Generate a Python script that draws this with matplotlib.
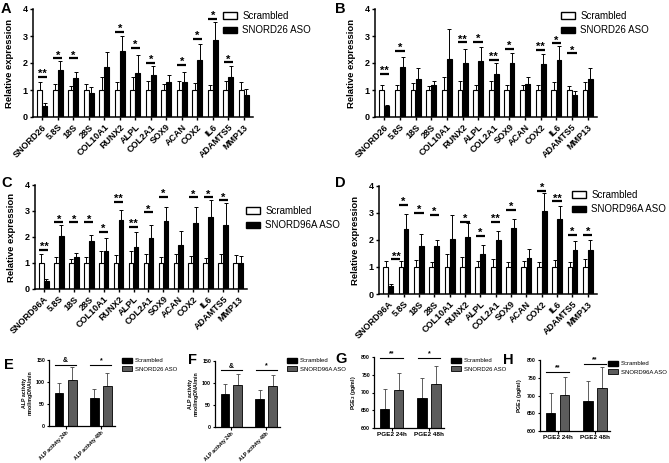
import numpy as np
import matplotlib
matplotlib.use("Agg")
import matplotlib.pyplot as plt
from matplotlib.patches import Patch

plt.rcParams['font.family'] = ['Liberation Sans', 'DejaVu Sans']
plt.rcParams['font.weight'] = 'bold'

# ---------------- data ----------------
genes_26 = ['SNORD26', '5.8S', '18S', '28S', 'COL10A1', 'RUNX2', 'ALPL', 'COL2A1',
            'SOX9', 'ACAN', 'COX2', 'IL6', 'ADAMTS5', 'MMP13']
genes_96 = ['SNORD96A', '5.8S', '18S', '28S', 'COL10A1', 'RUNX2', 'ALPL', 'COL2A1',
            'SOX9', 'ACAN', 'COX2', 'IL6', 'ADAMTS5', 'MMP13']

A_scr = [1, 1, 1, 1, 1, 1, 1, 1, 1, 1, 1, 1, 1, 1]
A_scr_err = [0.30, 0.22, 0.14, 0.22, 0.47, 0.28, 0.48, 0.35, 0.22, 0.35, 0.26, 0.17, 0.35, 0.28]
A_aso = [0.40, 1.75, 1.44, 0.89, 1.85, 2.45, 1.63, 1.54, 1.30, 1.30, 2.10, 2.86, 1.50, 0.80]
A_aso_err = [0.12, 0.33, 0.23, 0.21, 0.55, 0.55, 0.67, 0.36, 0.27, 0.38, 0.62, 0.66, 0.38, 0.24]
A_sig_pos = [0, 1, 2, 5, 6, 7, 9, 10, 11, 12]
A_sig_lab = ['**', '*', '*', '*', '*', '*', '*', '*', '*', '*']
A_sig_y = [1.48, 2.17, 2.17, 3.15, 2.56, 2.0, 1.94, 2.89, 3.64, 2.02]

B_scr = [1, 1, 1, 1, 1, 1, 1, 1, 1, 1, 1, 1, 1, 1]
B_scr_err = [0.18, 0.20, 0.27, 0.16, 0.49, 0.33, 0.19, 0.32, 0.17, 0.19, 0.18, 0.29, 0.16, 0.29]
B_aso = [0.40, 1.86, 1.40, 1.17, 2.15, 2.01, 2.06, 1.61, 2.01, 1.23, 1.98, 2.11, 0.80, 1.40]
B_aso_err = [0.06, 0.35, 0.43, 0.17, 1.12, 0.51, 0.52, 0.38, 0.35, 0.26, 0.35, 0.52, 0.16, 0.43]
B_sig_pos = [0, 1, 5, 6, 7, 8, 10, 11, 12]
B_sig_lab = ['**', '*', '**', '*', '**', '*', '**', '*', '*']
B_sig_y = [1.61, 2.45, 2.76, 2.77, 2.11, 2.51, 2.48, 2.73, 2.36]

C_scr = [1, 1, 1, 1, 1, 1, 1, 1, 1, 1, 1, 1, 1, 1]
C_scr_err = [0.34, 0.22, 0.15, 0.22, 0.46, 0.30, 0.47, 0.34, 0.22, 0.34, 0.26, 0.19, 0.34, 0.30]
C_aso = [0.29, 2.02, 1.22, 1.84, 1.46, 2.66, 1.60, 1.96, 2.60, 1.68, 2.54, 2.78, 2.48, 1.00]
C_aso_err = [0.08, 0.46, 0.15, 0.25, 0.50, 0.36, 0.59, 0.50, 0.55, 0.57, 0.61, 0.66, 0.83, 0.26]
C_sig_pos = [0, 1, 2, 3, 4, 5, 6, 7, 8, 10, 11, 12]
C_sig_lab = ['**', '*', '*', '*', '*', '**', '**', '*', '*', '*', '*', '*']
C_sig_y = [1.5, 2.56, 2.56, 2.56, 2.19, 3.35, 2.4, 2.95, 3.55, 3.52, 3.52, 3.41]

D_scr = [1, 1, 1, 1, 1, 1, 1, 1, 1, 1, 1, 1, 1, 1]
D_scr_err = [0.22, 0.21, 0.27, 0.19, 0.49, 0.36, 0.21, 0.31, 0.19, 0.21, 0.20, 0.27, 0.19, 0.31]
D_aso = [0.30, 2.39, 1.77, 1.76, 2.02, 2.10, 1.47, 2.01, 2.45, 1.35, 3.06, 2.78, 1.64, 1.62]
D_aso_err = [0.08, 0.57, 0.46, 0.24, 0.92, 0.52, 0.33, 0.34, 0.33, 0.33, 0.68, 0.49, 0.31, 0.38]
D_sig_pos = [0.5, 1, 2, 3, 5, 6, 7, 8, 10, 11, 12, 13]
D_sig_lab = ['**', '*', '*', '*', '*', '*', '**', '*', '*', '**', '*', '*']
D_sig_y = [1.28, 3.3, 3.0, 2.93, 2.66, 2.16, 2.68, 3.12, 3.83, 3.43, 2.19, 2.19]

alp_cats = ['ALP activity 24h', 'ALP activity 48h']
E_scr = [76, 63]
E_scr_err = [21, 20]
E_aso = [105, 90]
E_aso_err = [28, 30]
E_sig_lab = ['&', '*']
E_sig_y = [139, 139]

F_scr = [76, 63]
F_scr_err = [21, 21]
F_aso = [95, 94]
F_aso_err = [25, 24]
F_sig_lab = ['&', '*']
F_sig_y = [129, 129]

pge_cats = ['PGE2 24h', 'PGE2 48h']
G_scr = [654, 684]
G_scr_err = [56, 56]
G_aso = [706, 723]
G_aso_err = [49, 51]
G_sig_lab = ['**', '*']
G_sig_y = [797, 797]

H_scr = [652, 684]
H_scr_err = [56, 56]
H_aso = [702, 722]
H_aso_err = [50, 58]
H_sig_lab = ['**', '**']
H_sig_y = [767, 789]

# ---------------- layout helpers ----------------
W, H = 669, 463
fig = plt.figure(figsize=(W / 100, H / 100), dpi=100)


def rect(l, t, r, b):
    return [l / W, 1 - b / H, (r - l) / W, (b - t) / H]


def style_axes(ax, lw=1.1):
    for s in ['top', 'right']:
        ax.spines[s].set_visible(False)
    for s in ['left', 'bottom']:
        ax.spines[s].set_linewidth(lw)


def expr_panel(box, genes, scr, scr_err, aso, aso_err, sp, sl, sy, labels, leg_xy, letter, letter_xy):
    ax = fig.add_axes(rect(*box))
    x = np.arange(len(genes))
    w = 0.31
    zeros = np.zeros(len(genes))
    ax.bar(x - w / 2 - 0.01, scr, w, color='white', edgecolor='black', linewidth=0.8, zorder=2)
    ax.bar(x + w / 2 + 0.01, aso, w, color='black', edgecolor='black', linewidth=0.8, zorder=2)
    ax.errorbar(x - w / 2 - 0.01, scr, yerr=[zeros, scr_err], fmt='none', ecolor='black',
                elinewidth=0.7, capsize=1.5, capthick=0.7, zorder=1)
    ax.errorbar(x + w / 2 + 0.01, aso, yerr=[zeros, aso_err], fmt='none', ecolor='black',
                elinewidth=0.7, capsize=1.5, capthick=0.7, zorder=1)
    for p, l, y in zip(sp, sl, sy):
        ax.plot([p - 0.3, p + 0.3], [y, y], color='black', lw=1.6, clip_on=False,
                solid_capstyle='butt')
        ax.annotate(l, (p, y), xytext=(0, -1.5), textcoords='offset points', ha='center',
                    va='bottom', fontsize=8, fontweight='bold', annotation_clip=False)
    ax.set_xlim(-0.6, 13.6)
    ax.set_ylim(0, 4)
    ax.set_yticks([0, 1, 2, 3, 4])
    ax.set_xticks(x)
    ax.set_xticklabels(genes, rotation=45, ha='right', rotation_mode='anchor',
                       fontsize=6.5, fontweight='bold')
    ax.tick_params(axis='both', length=2.5, width=1.0, pad=1.5)
    ax.tick_params(axis='y', labelsize=6.5)
    for t in ax.get_yticklabels():
        t.set_fontweight('bold')
    ax.set_ylabel('Relative expression', fontsize=6.8, fontweight='bold', labelpad=6)
    style_axes(ax)
    handles = [Patch(facecolor='white', edgecolor='black', linewidth=1.0),
               Patch(facecolor='black', edgecolor='black')]
    fig.legend(handles, labels, loc='upper left', bbox_to_anchor=(leg_xy[0] / W, 1 - leg_xy[1] / H),
               frameon=False, handlelength=1.4, handleheight=0.65,
               handletextpad=0.6, labelspacing=0.45, borderpad=0, borderaxespad=0,
               prop={'size': 7, 'weight': 'normal'})
    fig.text(letter_xy[0] / W, 1 - letter_xy[1] / H, letter, fontsize=10.5, fontweight='bold',
             ha='left', va='top')
    return ax


def small_panel(box, cats, scr, scr_err, aso, aso_err, sl, sy, ylim, yticks, ylabel,
                rot, labels, leg_xy, letter, letter_xy):
    ax = fig.add_axes(rect(*box))
    x = np.arange(len(cats))
    w = 0.25
    off = 0.185
    zeros = np.zeros(len(cats))
    ax.bar(x - off, scr, w, color='black', edgecolor='black', linewidth=0.6, zorder=2)
    ax.bar(x + off, aso, w, color='#5c5c5c', edgecolor='black', linewidth=0.6, zorder=2)
    ax.errorbar(x - off, scr, yerr=[zeros, scr_err], fmt='none', ecolor='#444444',
                elinewidth=0.6, capsize=1.5, capthick=0.6, zorder=1)
    ax.errorbar(x + off, aso, yerr=[zeros, aso_err], fmt='none', ecolor='#444444',
                elinewidth=0.6, capsize=1.5, capthick=0.6, zorder=1)
    for p, l, y in zip(x, sl, sy):
        ax.plot([p - 0.3, p + 0.3], [y, y], color='black', lw=0.8, clip_on=False)
        ax.annotate(l, (p, y), xytext=(0, 0.5), textcoords='offset points', ha='center',
                    va='bottom', fontsize=5, fontweight='bold', annotation_clip=False)
    ax.set_xlim(-0.47, 1.4)
    ax.set_ylim(*ylim)
    ax.set_yticks(yticks)
    ax.set_xticks(x)
    if rot:
        ax.set_xticklabels(cats, rotation=45, ha='right', rotation_mode='anchor',
                           fontsize=3.6, fontweight='bold')
    else:
        ax.set_xticklabels(cats, fontsize=4.6, fontweight='bold')
    ax.tick_params(axis='both', length=1.8, width=0.8, pad=1)
    ax.tick_params(axis='y', labelsize=3.8)
    for t in ax.get_yticklabels():
        t.set_fontweight('bold')
    ax.set_ylabel(ylabel, fontsize=3.8, fontweight='bold', labelpad=2.5, linespacing=1.1)
    style_axes(ax, lw=0.9)
    handles = [Patch(facecolor='black', edgecolor='black'),
               Patch(facecolor='#5c5c5c', edgecolor='black', linewidth=0.6)]
    fig.legend(handles, labels, loc='upper left', bbox_to_anchor=(leg_xy[0] / W, 1 - leg_xy[1] / H),
               frameon=False, handlelength=1.6, handleheight=0.8,
               handletextpad=0.6, labelspacing=0.5, borderpad=0, borderaxespad=0,
               prop={'size': 4.3, 'weight': 'normal'})
    fig.text(letter_xy[0] / W, 1 - letter_xy[1] / H, letter, fontsize=10.5, fontweight='bold',
             ha='left', va='top')
    return ax


expr_panel((33, 9, 253, 117), genes_26, A_scr, A_scr_err, A_aso, A_aso_err,
           A_sig_pos, A_sig_lab, A_sig_y, ['Scrambled', 'SNORD26 ASO'], (223, 11), 'A', (1, 2))
expr_panel((375, 9, 597, 117), genes_26, B_scr, B_scr_err, B_aso, B_aso_err,
           B_sig_pos, B_sig_lab, B_sig_y, ['Scrambled', 'SNORD26 ASO'], (561, 11), 'B', (335, 2))
expr_panel((35, 185, 247, 289), genes_96, C_scr, C_scr_err, C_aso, C_aso_err,
           C_sig_pos, C_sig_lab, C_sig_y, ['Scrambled', 'SNORD96A ASO'], (246, 206), 'C', (1, 176))
expr_panel((379, 186, 597, 294), genes_96, D_scr, D_scr_err, D_aso, D_aso_err,
           D_sig_pos, D_sig_lab, D_sig_y, ['Scrambled', 'SNORD96A ASO'], (572, 190), 'D', (335, 176))

small_panel((49, 360, 115, 426), alp_cats, E_scr, E_scr_err, E_aso, E_aso_err, E_sig_lab, E_sig_y,
            (0, 150), [0, 50, 100, 150], 'ALP activity\nnmol/mgDNA/min', True,
            ['Scrambled', 'SNORD26 ASO'], (122, 358), 'E', (4, 358))
small_panel((215, 361, 280, 427), alp_cats, F_scr, F_scr_err, F_aso, F_aso_err, F_sig_lab, F_sig_y,
            (0, 150), [0, 50, 100, 150], 'ALP activity\nnmol/mgDNA/min', True,
            ['Scrambled', 'SNORD96A ASO'], (287, 358), 'F', (188, 353))
small_panel((374, 357, 444, 428), pge_cats, G_scr, G_scr_err, G_aso, G_aso_err, G_sig_lab, G_sig_y,
            (600, 800), [600, 650, 700, 750, 800], 'PGE$_2$ (pg/ml)', False,
            ['Scrambled', 'SNORD26 ASO'], (451, 358), 'G', (335, 352))
small_panel((540, 360, 610, 431), pge_cats, H_scr, H_scr_err, H_aso, H_aso_err, H_sig_lab, H_sig_y,
            (600, 800), [600, 650, 700, 750, 800], 'PGE$_2$ (pg/ml)', False,
            ['Scrambled', 'SNORD96A ASO'], (608, 361), 'H', (503, 353))

fig.savefig('out.png', dpi=100)
